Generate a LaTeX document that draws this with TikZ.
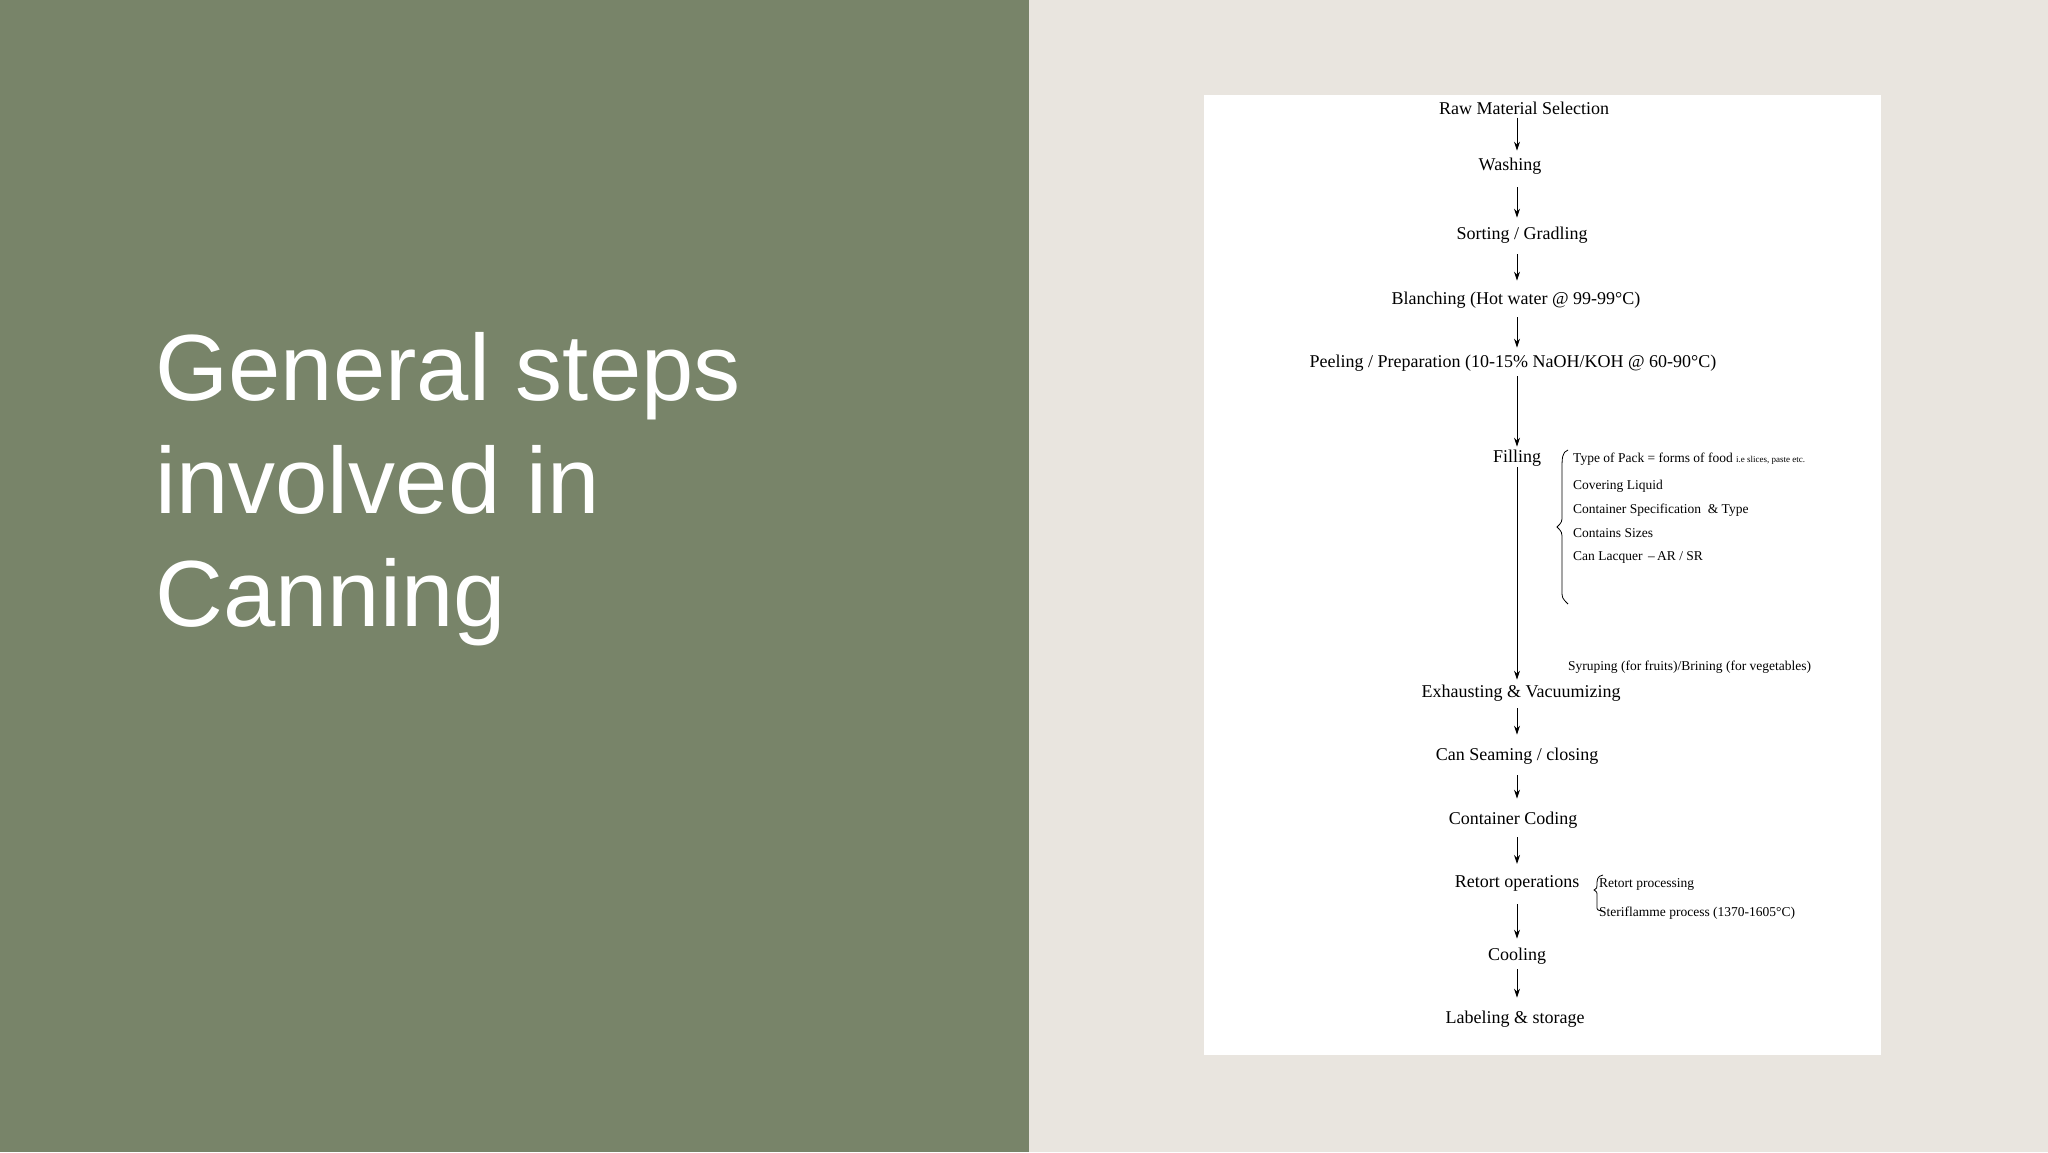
\documentclass[tikz,border=0pt]{standalone}
\usepackage{fontspec}
\setmainfont{Liberation Serif}
\newfontfamily\titlefont{Liberation Sans}
\usetikzlibrary{decorations.pathreplacing,arrows.meta}
\definecolor{panelgreen}{HTML}{788469}
\definecolor{beige}{HTML}{E9E5DF}
\begin{document}
\begin{tikzpicture}[x=1pt,y=-1pt,
  stepnode/.style={font=\fontsize{18}{20}\selectfont, inner sep=1pt},
  note/.style={font=\fontsize{13.5}{15}\selectfont, inner sep=1pt, anchor=west},
  flow/.style={-{Stealth[length=9pt,width=6pt]}, line width=0.9pt, black}]
\useasboundingbox (0,0) rectangle (2048,1152);
\fill[beige] (0,0) rectangle (2048,1152);
\fill[panelgreen] (0,0) rectangle (1029,1152);
\node[anchor=west, text=white, align=left, font=\titlefont\fontsize{94}{113}\selectfont] (title) at (152,489) {General steps\\involved in\\Canning};
\fill[white] (1204,95) rectangle (1881,1055);
\node[stepnode] (s1) at (1524,108) {Raw Material Selection};
\node[stepnode] (s2) at (1510,166) {Washing};
\node[stepnode] (s3) at (1522,235) {Sorting / Gradling};
\node[stepnode] (s4) at (1516,300) {Blanching (Hot water @ 99-99\textdegree C)};
\node[stepnode] (s5) at (1513,363) {Peeling / Preparation (10-15\% NaOH/KOH @ 60-90\textdegree C)};
\node[stepnode] (s6) at (1517,458) {Filling};
\node[stepnode] (s7) at (1521,693) {Exhausting \& Vacuumizing};
\node[stepnode] (s8) at (1517,756) {Can Seaming / closing};
\node[stepnode] (s9) at (1513,820) {Container Coding};
\node[stepnode] (s10) at (1517,883) {Retort operations};
\node[stepnode] (s11) at (1517,956) {Cooling};
\node[stepnode] (s12) at (1515,1019) {Labeling \& storage};
\foreach \a/\b/\sa/\sb in {s1/s2/2/6,s2/s3/12/8,s3/s4/10/10,s4/s5/8/6,s5/s6/4/2,s6/s7/0/4,s7/s8/6/12,s8/s9/10/12,s9/s10/8/10,s10/s11/12/8,s11/s12/4/12}
  \draw[flow, shorten <=\sa pt, shorten >=\sb pt] (\a.south -| s6.center) -- (\b.north -| s6.center);
\node[note] (f1) at (1572,459) {Type of Pack = forms of food {\fontsize{9}{10}\selectfont i.e slices, paste etc.}};
\node[note] (f2) at (1572,486) {Covering Liquid};
\node[note] (f3) at (1572,510) {Container Specification \ \& Type};
\node[note] (f4) at (1572,533) {Contains Sizes};
\node[note] (f5) at (1572,557) {Can Lacquer \,--\,AR / SR};
\node[note] (f6) at (1567,667) {Syruping (for fruits)/Brining (for vegetables)};
\coordinate (bt) at (1568,450);
\coordinate (bb) at (1568,604);
\draw[line width=0.8pt] (bt) .. controls (1562,452) and (1562,458) .. (1562,470) -- (1562,515) .. controls (1562,522) .. (1557,527) .. controls (1562,532) .. (1562,540) -- (1562,590) .. controls (1562,598) .. (bb);
\node[note] (r1) at (1598,884) {Retort processing};
\node[note] (r2) at (1598,913) {Steriflamme process (1370-1605\textdegree C)};
\draw[line width=0.8pt] (1603,875) .. controls (1597,876) and (1597,880) .. (1597,885) .. controls (1597,888) .. (1594,890) .. controls (1597,892) .. (1597,896) -- (1597,906) .. controls (1597,910) .. (1602,911);
\end{tikzpicture}
\end{document}
